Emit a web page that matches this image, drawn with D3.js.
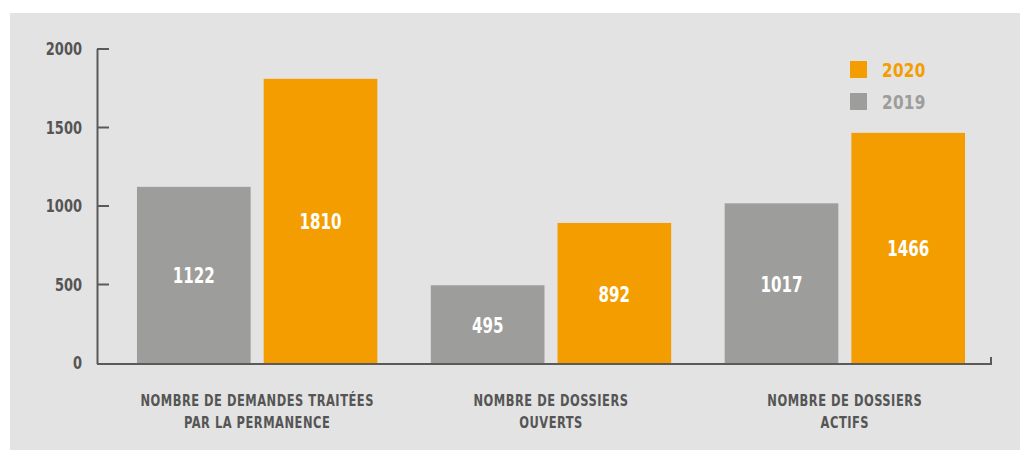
<!doctype html>
<html>
  <head>
    <meta charset="utf-8">
    <title>Permanence</title>
    <script src="https://d3js.org/d3.v7.min.js"></script>
    <style>
      body { margin: 0; background: #fff; }
      text { font-family: "DejaVu Sans", sans-serif; font-stretch: condensed; font-weight: bold; }
    </style>
  </head>
  <body>
    <script>
      // données
      const categories = [
        ['NOMBRE DE DEMANDES TRAITÉES', 'PAR LA PERMANENCE'],
        ['NOMBRE DE DOSSIERS', 'OUVERTS'],
        ['NOMBRE DE DOSSIERS', 'ACTIFS']
      ];
      const years = ['2019', '2020'];
      const values2019 = [1122, 495, 1017];
      const values2020 = [1810, 892, 1466];
      const yTicks = [0, 500, 1000, 1500, 2000];

      const colors = { '2019': '#9d9d9b', '2020': '#f49d00' };

      const width = 1020, height = 450;
      const svg = d3.select('body').append('svg')
          .attr('width', width)
          .attr('height', height);

      // fond
      svg.append('rect')
          .attr('x', 10).attr('y', 13)
          .attr('width', width - 10).attr('height', height - 13)
          .attr('fill', '#e3e3e3');

      const y = d3.scaleLinear().domain([0, 2000]).range([363, 49]);

      const x0 = d3.scaleBand()
          .domain(d3.range(categories.length))
          .range([97, 1005])
          .paddingInner(0.182)
          .paddingOuter(0.136);

      const x1 = d3.scaleBand()
          .domain(years)
          .range([0, x0.bandwidth()])
          .paddingInner(0.103);

      const data = categories.map((c, i) => ({
        label: c,
        values: [{ year: '2019', v: values2019[i] }, { year: '2020', v: values2020[i] }]
      }));

      // barres
      const groups = svg.append('g')
        .selectAll('g')
        .data(data)
        .join('g')
          .attr('transform', (d, i) => `translate(${x0(i)},0)`);

      groups.selectAll('rect')
        .data(d => d.values)
        .join('rect')
          .attr('x', d => x1(d.year))
          .attr('y', d => y(d.v))
          .attr('width', x1.bandwidth())
          .attr('height', d => y(0) - y(d.v))
          .attr('fill', d => colors[d.year]);

      groups.selectAll('text.val')
        .data(d => d.values)
        .join('text')
          .attr('class', 'val')
          .attr('transform', d => `translate(${x1(d.year) + x1.bandwidth() / 2},${(y(d.v) + y(0)) / 2 + 1}) scale(0.8,1)`)
          .attr('dy', '0.36em')
          .attr('text-anchor', 'middle')
          .attr('fill', '#fff')
          .attr('font-size', 21)
          .text(d => d.v);

      // axe Y
      const axisColor = '#5a5a5a';
      svg.append('line')
          .attr('x1', 97.5).attr('x2', 97.5)
          .attr('y1', y(2000)).attr('y2', y(0) + 1)
          .attr('stroke', axisColor).attr('stroke-width', 2);

      svg.append('g').selectAll('line')
        .data(yTicks.filter(t => t > 0))
        .join('line')
          .attr('x1', 97).attr('x2', 109)
          .attr('y1', d => y(d)).attr('y2', d => y(d))
          .attr('stroke', axisColor).attr('stroke-width', 2);

      svg.append('g').selectAll('text')
        .data(yTicks)
        .join('text')
          .attr('transform', d => `translate(82,${y(d)}) scale(0.85,1)`)
          .attr('dy', '0.36em')
          .attr('text-anchor', 'end')
          .attr('fill', '#555')
          .attr('font-size', 17)
          .text(d => d);

      // axe X
      svg.append('line')
          .attr('x1', 97).attr('x2', 992)
          .attr('y1', y(0) + 1).attr('y2', y(0) + 1)
          .attr('stroke', axisColor).attr('stroke-width', 2);
      svg.append('line')
          .attr('x1', 991).attr('x2', 991)
          .attr('y1', y(0) - 6).attr('y2', y(0) + 2)
          .attr('stroke', axisColor).attr('stroke-width', 2);

      // étiquettes des catégories
      const catLabels = svg.append('g').selectAll('text')
        .data(data)
        .join('text')
          .attr('transform', (d, i) => `translate(${x0(i) + x0.bandwidth() / 2},0) scale(0.85,1)`)
          .attr('text-anchor', 'middle')
          .attr('fill', '#555')
          .attr('font-size', 15)
          .attr('letter-spacing', 0.6);
      catLabels.selectAll('tspan')
        .data(d => d.label)
        .join('tspan')
          .attr('x', 0)
          .attr('y', (d, j) => 406 + j * 22)
          .text(d => d);

      // légende
      const legend = svg.append('g').selectAll('g')
        .data(['2020', '2019'])
        .join('g')
          .attr('transform', (d, i) => `translate(850,${61 + i * 32})`);
      legend.append('rect')
          .attr('width', 17).attr('height', 17)
          .attr('fill', d => colors[d]);
      legend.append('text')
          .attr('transform', 'translate(32,8.5) scale(0.85,1)')
          .attr('dy', '0.36em')
          .attr('fill', d => colors[d])
          .attr('font-size', 20)
          .attr('letter-spacing', 0.3)
          .text(d => d);
    </script>
  </body>
</html>
